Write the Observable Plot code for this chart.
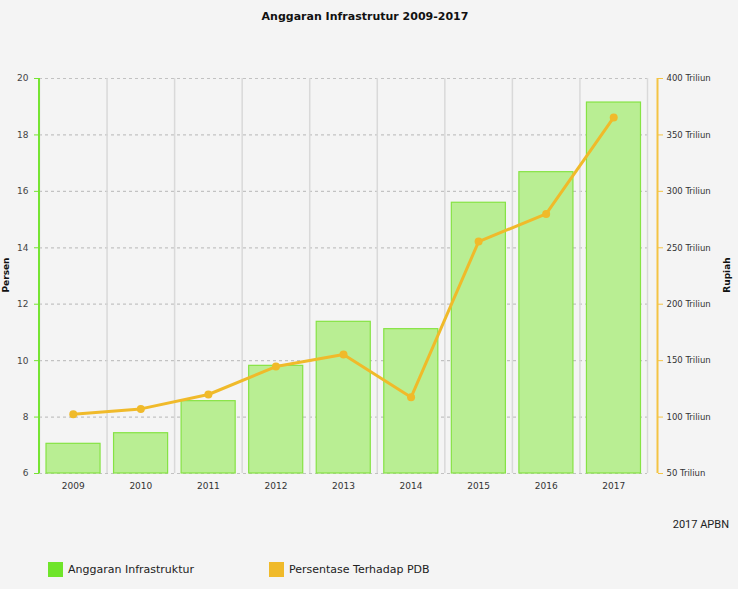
<!DOCTYPE html>
<html>
<head>
<meta charset="utf-8">
<script src="https://cdn.jsdelivr.net/npm/d3@7"></script>
<script src="https://cdn.jsdelivr.net/npm/@observablehq/plot@0.6"></script>
<style>
  html, body { margin: 0; padding: 0; background: #f4f4f4; }
  #wrap { position: relative; width: 738px; height: 589px; background: #f4f4f4; font-family: "DejaVu Sans", Verdana, sans-serif; overflow: hidden; }
  #wrap svg { position: absolute; left: 0; top: 0; background: transparent; }
  .ov { position: absolute; white-space: nowrap; color: #111; }
  #title { left: 0; width: 730px; top: 10px; text-align: center; font-weight: bold; font-size: 11px; }
  .ylab { font-weight: bold; font-size: 9px; transform-origin: center center; }
  #caption { right: 9px; top: 518px; font-family: Roboto, sans-serif; font-size: 11px; color: #222; }
  .leg { top: 562px; font-size: 11px; color: #222; display: flex; align-items: center; }
  .sw { width: 15px; height: 15px; margin-right: 5px; display: inline-block; }
</style>
</head>
<body>
<div id="wrap">
  <div id="chart"></div>
  <div class="ov" id="title">Anggaran Infrastrutur 2009-2017</div>
  <div class="ov ylab" id="ylabL">Persen</div>
  <div class="ov ylab" id="ylabR">Rupiah</div>
  <div class="ov" id="caption">2017 APBN</div>
  <div class="ov leg" style="left:48px"><span class="sw" style="background:#6fe52a"></span>Anggaran Infrastruktur</div>
  <div class="ov leg" style="left:269px"><span class="sw" style="background:#f0ba2a"></span>Persentase Terhadap PDB</div>
</div>
<script>
// Data
const years = [2009, 2010, 2011, 2012, 2013, 2014, 2015, 2016, 2017];
const anggaran = [76.3, 85.7, 114.1, 145.4, 184.4, 177.9, 289.9, 317.0, 378.7]; // Triliun Rupiah
const persen = [8.10, 8.29, 8.80, 9.79, 10.22, 8.70, 14.22, 15.20, 18.62];      // Persen terhadap PDB
const leftTicks = [6, 8, 10, 12, 14, 16, 18, 20];
const rightTicks = [50, 100, 150, 200, 250, 300, 350, 400];
const leftDomain = [6, 20];
const rightDomain = [50, 400];
const xDomain = [2008.5, 2017.5];

const data = years.map((y, i) => ({year: y, anggaran: anggaran[i], persen: persen[i]}));
const toPct = d3.scaleLinear(rightDomain, leftDomain);

const green = "#76e432";
const orange = "#f0ba2a";

const chart = Plot.plot({
  width: 738,
  height: 589,
  marginLeft: 39,
  marginRight: 91,
  marginTop: 78,
  marginBottom: 116,
  style: {background: "transparent", fontFamily: "DejaVu Sans, Verdana, sans-serif"},
  x: {domain: xDomain, axis: null},
  y: {domain: leftDomain, axis: null},
  marks: [
    Plot.ruleY(leftTicks, {stroke: "#c2c2c2", strokeDasharray: "3,3", strokeWidth: 1.2}),
    Plot.ruleX(years, {x: d => d - 0.5, y1: leftDomain[0], y2: leftDomain[1], stroke: "#d9d9d9", strokeWidth: 1.5}),
    Plot.ruleX([years[years.length - 1]], {x: d => d + 0.5, y1: leftDomain[0], y2: leftDomain[1], stroke: "#d9d9d9", strokeWidth: 1.5}),
    Plot.rectY(data, {
      x1: d => d.year - 0.5, x2: d => d.year + 0.5,
      y1: leftDomain[0], y2: d => toPct(d.anggaran),
      insetLeft: 7, insetRight: 6.5,
      fill: "#b9ee93", stroke: "#86e344", strokeWidth: 1.2
    }),
    Plot.line(data, {x: "year", y: "persen", stroke: orange, strokeWidth: 3}),
    Plot.dot(data, {x: "year", y: "persen", r: 4, fill: orange}),
    // left axis
    Plot.ruleX([xDomain[0]], {y1: leftDomain[0], y2: leftDomain[1], stroke: green, strokeWidth: 2, dx: -0.5}),
    Plot.axisY(leftTicks, {anchor: "left", tickSize: 5, tickPadding: 6, stroke: green, fill: "#444", fontSize: 9, label: null}),
    // right axis
    Plot.ruleX([xDomain[1]], {y1: leftDomain[0], y2: leftDomain[1], stroke: "#f4c445", strokeWidth: 2, dx: 10}),
    Plot.axisY(rightTicks.map(v => toPct(v)), {
      anchor: "right", dx: 10, tickSize: 5, tickPadding: 4, stroke: "#f4c445", fill: "#333", fontSize: 8.5, label: null,
      tickFormat: d => `${Math.round(toPct.invert(d))} Triliun`
    }),
    // x axis
    Plot.axisX(years, {anchor: "bottom", tickSize: 0, tickPadding: 9, fill: "#333", fontSize: 9, tickFormat: d => String(d), label: null})
  ]
});
document.getElementById("chart").appendChild(chart);

// position rotated axis labels
function placeRot(id, cx, cy) {
  const el = document.getElementById(id);
  const r = el.getBoundingClientRect();
  el.style.left = (cx - r.width / 2) + "px";
  el.style.top = (cy - r.height / 2) + "px";
  el.style.transform = "rotate(-90deg)";
}
placeRot("ylabL", 5, 275);
placeRot("ylabR", 727, 275);
</script>
</body>
</html>
